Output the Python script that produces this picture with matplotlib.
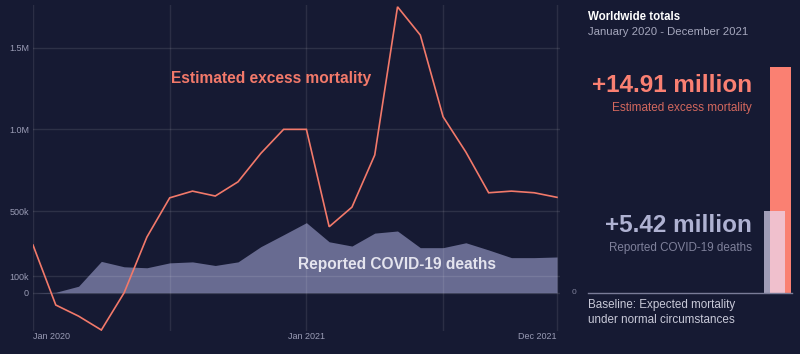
import matplotlib
matplotlib.use("Agg")
import matplotlib.pyplot as plt
import numpy as np

plt.rcParams['font.family'] = ['Liberation Sans', 'DejaVu Sans']

# ---- data ----
months = ["Jan 2020", "Feb 2020", "Mar 2020", "Apr 2020", "May 2020", "Jun 2020",
          "Jul 2020", "Aug 2020", "Sep 2020", "Oct 2020", "Nov 2020", "Dec 2020",
          "Jan 2021", "Feb 2021", "Mar 2021", "Apr 2021", "May 2021", "Jun 2021",
          "Jul 2021", "Aug 2021", "Sep 2021", "Oct 2021", "Nov 2021", "Dec 2021"]
excess = [292e3, -75e3, -143e3, -228e3, 0, 341e3, 581e3, 622e3, 592e3, 679e3,
          853e3, 1000e3, 1000e3, 404e3, 524e3, 843e3, 1750e3, 1577e3, 1077e3,
          861e3, 612e3, 622e3, 612e3, 584e3]
reported = [0, 3e3, 40e3, 192e3, 159e3, 153e3, 183e3, 189e3, 167e3, 189e3,
            282e3, 355e3, 429e3, 312e3, 286e3, 365e3, 378e3, 276e3, 276e3,
            306e3, 262e3, 215e3, 215e3, 219e3]
ytick_vals = [0, 100e3, 500e3, 1.0e6, 1.5e6]
ytick_labels = ["0", "100k", "500k", "1.0M", "1.5M"]
xtick_labels = {"Jan 2020": "Jan 2020", "Jan 2021": "Jan 2021", "Dec 2021": "Dec 2021"}
grid_months = ["Jan 2020", "Jul 2020", "Jan 2021", "Jul 2021", "Dec 2021"]
totals_labels = ["Estimated excess mortality", "Reported COVID-19 deaths"]
totals_values = [14.91, 5.42]

BG = '#161a33'
SALMON = '#fa8072'
LINE = '#f2796a'
AREA = '#686b91'
W, H = 800, 354

def fx(x):
    return x / W

def fy(y):
    return 1 - y / H

fig = plt.figure(figsize=(8, 3.54), dpi=100, facecolor=BG)

# ---- main chart ----
ax = fig.add_axes([fx(33), fy(331), fx(560 - 33), (331 - 5) / H])
ax.set_facecolor(BG)
x = np.arange(len(months))
ax.fill_between(x, 0, reported, color=AREA, linewidth=0, zorder=1)
ax.plot(x, excess, color=LINE, linewidth=1.2, zorder=3, solid_joinstyle='miter')
ax.set_xlim(0, (len(months) - 1) * 527 / 524)
ax.set_ylim(-234e3, 1761e3)

gx = [months.index(m) for m in grid_months]
for g in gx:
    ax.axvline(g, color='white', alpha=0.09, linewidth=1, zorder=2)
for v in ytick_vals:
    ax.axhline(v, color='white', alpha=0.1, linewidth=1, zorder=2)

ax.set_yticks(ytick_vals)
ax.set_yticklabels(ytick_labels)
xt = [months.index(k) for k in xtick_labels]
ax.set_xticks(xt)
ax.set_xticklabels(list(xtick_labels.values()))
for lab, ha in zip(ax.get_xticklabels(), ['left', 'center', 'right']):
    lab.set_ha(ha)
ax.tick_params(axis='both', length=0, labelsize=6.5, colors='#9a9cb5')
ax.tick_params(axis='y', pad=3)
ax.tick_params(axis='x', pad=1)
for s in ax.spines.values():
    s.set_visible(False)

fig.text(fx(271), fy(78), "Estimated excess mortality", color=LINE,
         fontsize=11.2, fontweight='bold', ha='center', va='center')
fig.text(fx(397.5), fy(265), "Reported COVID-19 deaths", color='#e4e4ee',
         fontsize=11.2, fontweight='bold', ha='center', va='center')

# ---- right panel ----
bx = fig.add_axes([fx(570), fy(292.5), fx(230), 292.5 / H])
bx.set_facecolor('none')
bx.set_xlim(0, 230)
bx.set_ylim(0, 292.5 / 15.1)
bx.axis('off')
bx.bar([210.5], [totals_values[0]], width=21, color=SALMON, zorder=1)
bx.bar([204.25], [totals_values[1]], width=21.5, color='#ebe4ff', alpha=0.65, zorder=2)
bx.plot([18, 222], [0, 0], color='#7a7c98', linewidth=1, zorder=3, clip_on=False)

fig.text(fx(588), fy(17), "Worldwide totals", color='white', fontsize=8.3,
         fontweight='bold', ha='left', va='center')
fig.text(fx(588), fy(32), "January 2020 - December 2021", color='#a5a7bd',
         fontsize=8.2, ha='left', va='center')
fig.text(fx(752), fy(85), "+%.2f million" % totals_values[0], color=SALMON,
         fontsize=17.5, fontweight='bold', ha='right', va='center')
fig.text(fx(752), fy(108), totals_labels[0], color='#d4685e',
         fontsize=8.5, ha='right', va='center')
fig.text(fx(752), fy(225), "+%.2f million" % totals_values[1], color='#afb2d2',
         fontsize=17.5, fontweight='bold', ha='right', va='center')
fig.text(fx(752), fy(248), totals_labels[1], color='#7f819b',
         fontsize=8.4, ha='right', va='center')
fig.text(fx(574), fy(293), "0", color='#7f819b', fontsize=6, ha='center', va='center')
fig.text(fx(588), fy(305), "Baseline: Expected mortality", color='#c8c9d8',
         fontsize=8.4, ha='left', va='center')
fig.text(fx(588), fy(320), "under normal circumstances", color='#c8c9d8',
         fontsize=8.4, ha='left', va='center')

fig.savefig('out.png', dpi=100, facecolor=BG)
